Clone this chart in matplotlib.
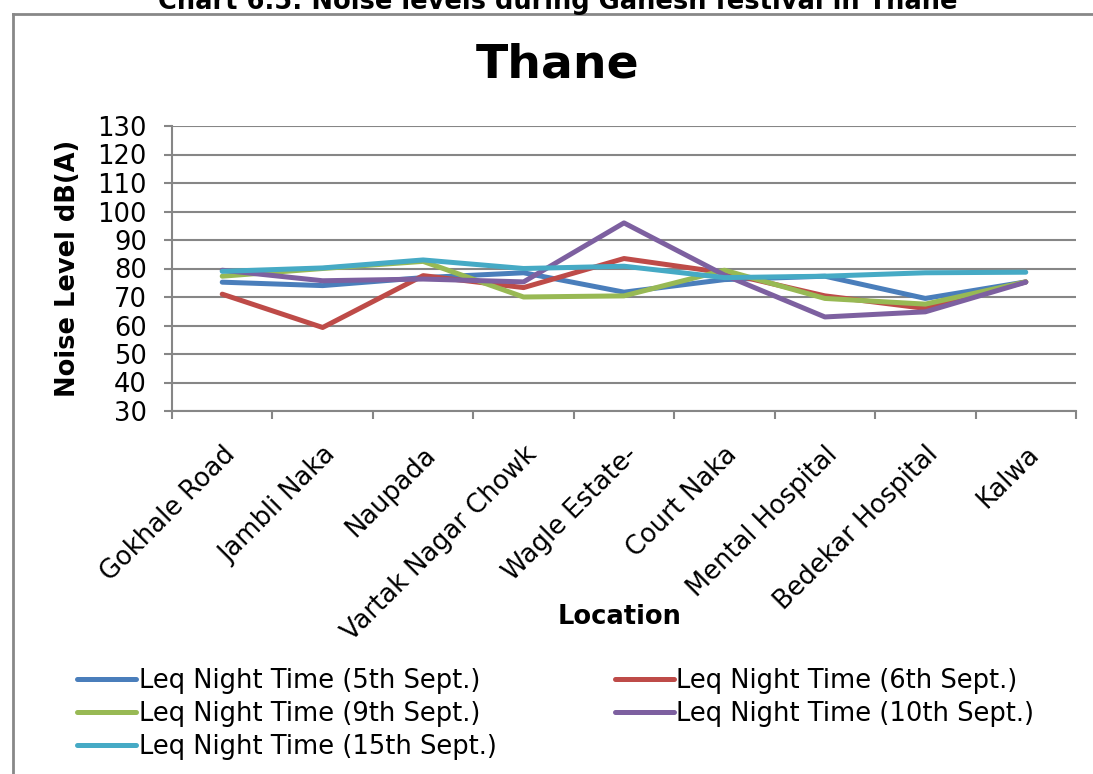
import matplotlib
matplotlib.use("Agg")
import matplotlib.pyplot as plt
from matplotlib.lines import Line2D

locations = ["Gokhale Road", "Jambli Naka", "Naupada", "Vartak Nagar Chowk",
             "Wagle Estate-", "Court Naka", "Mental Hospital", "Bedekar Hospital", "Kalwa"]

leq_5th = [75.2, 74.0, 76.8, 78.5, 71.7, 76.1, 77.3, 69.5, 75.3]
leq_6th = [71.0, 59.3, 77.5, 73.3, 83.5, 78.5, 70.4, 66.0, 75.3]
leq_9th = [77.3, 80.0, 82.5, 70.0, 70.4, 79.4, 69.5, 67.5, 75.3]
leq_10th = [79.4, 75.7, 76.3, 75.3, 96.0, 77.7, 63.0, 64.8, 75.2]
leq_15th = [79.0, 80.2, 83.0, 80.0, 80.8, 76.8, 77.3, 78.5, 78.7]

series = [
    ("Leq Night Time (5th Sept.)", leq_5th, "#4A7EBB"),
    ("Leq Night Time (6th Sept.)", leq_6th, "#BE4B48"),
    ("Leq Night Time (9th Sept.)", leq_9th, "#98B954"),
    ("Leq Night Time (10th Sept.)", leq_10th, "#7D60A0"),
    ("Leq Night Time (15th Sept.)", leq_15th, "#46AAC5"),
]

FS = 18.5
W, H = 1093, 774
fig = plt.figure(figsize=(W / 100, H / 100), dpi=100)
ax = fig.add_axes([172 / W, 1 - 411 / H, (1076 - 172) / W, (411 - 126) / H])

x = list(range(len(locations)))
handles = []
for label, vals, color in series:
    ln, = ax.plot(x, vals, color=color, lw=3.6, label=label, solid_capstyle="round")
    handles.append(ln)

grid_c = "#868686"
ax.set_ylim(30, 130)
ax.set_yticks(range(30, 131, 10))
ax.set_xlim(-0.5, len(locations) - 0.5)
ax.grid(axis="y", color=grid_c, lw=1.5)
ax.set_axisbelow(True)
for s in ["top", "right"]:
    ax.spines[s].set_visible(False)
for s in ["left", "bottom"]:
    ax.spines[s].set_color(grid_c)
    ax.spines[s].set_linewidth(1.5)

# category ticks sit between labels, like excel
ax.set_xticks([i - 0.5 for i in range(len(locations) + 1)])
ax.set_xticklabels([])
ax.set_xticks(x, minor=True)
ax.set_xticklabels(locations, minor=True, rotation=45, ha="right", va="top",
                   rotation_mode="anchor", fontsize=FS)
ax.tick_params(axis="x", which="minor", length=0, pad=22)
ax.tick_params(axis="x", which="major", length=6, width=1.5, color=grid_c, direction="out")
ax.tick_params(axis="y", length=6, width=1.5, color=grid_c, labelsize=FS, pad=12)

ax.set_ylabel("Noise Level dB(A)", fontsize=FS, fontweight="bold", labelpad=12)
fig.text(620 / W, 1 - 617 / H, "Location", fontsize=FS, fontweight="bold",
         ha="center", va="center")

fig.text(558 / W, 1 - 65 / H, "Thane", fontsize=34, fontweight="bold",
         ha="center", va="center")
fig.text(558 / W, 1 - 9 / H, "Chart 6.5: Noise levels during Ganesh festival in Thane",
         fontsize=FS, fontweight="bold", ha="center", va="baseline")

# chart area border (left and top edges visible)
fig.add_artist(Line2D([13 / W, 13 / W], [0, 1 - 14 / H], color="#888888", lw=2,
                      transform=fig.transFigure))
fig.add_artist(Line2D([13 / W, 1], [1 - 14 / H, 1 - 14 / H], color="#888888", lw=2,
                      transform=fig.transFigure))

# row-major order like the excel legend
order = [0, 2, 4, 1, 3]
fig.legend([handles[i] for i in order], [series[i][0] for i in order],
           loc="upper left", bbox_to_anchor=(77 / W, 1 - 668 / H), ncol=2,
           frameon=False, fontsize=FS, handlelength=2.3, handletextpad=0.1,
           columnspacing=4.6, labelspacing=0.28, borderpad=0, borderaxespad=0)

fig.savefig("out.png", dpi=100)
